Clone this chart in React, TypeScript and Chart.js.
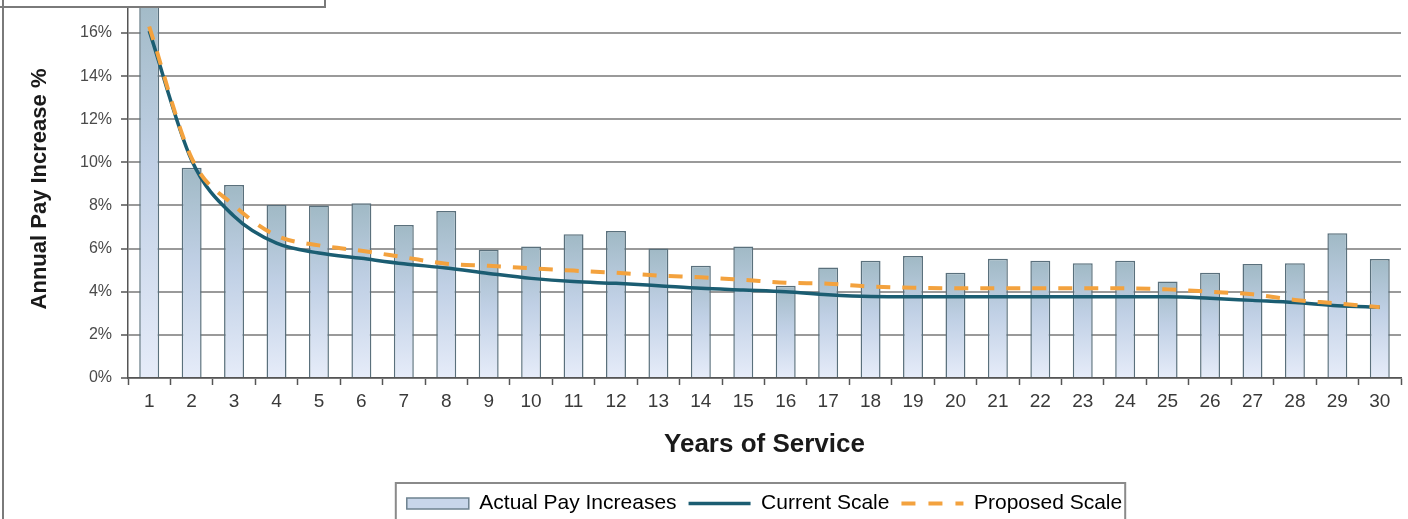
import React, { useEffect, useRef } from 'react';
import { Chart, registerables } from 'chart.js';

Chart.register(...registerables);

const years = ['1', '2', '3', '4', '5', '6', '7', '8', '9', '10', '11', '12', '13', '14', '15',
  '16', '17', '18', '19', '20', '21', '22', '23', '24', '25', '26', '27', '28', '29', '30'];

const actualPayIncreases = [18, 9.75, 8.95, 8.02, 8.0, 8.1, 7.1, 7.75, 5.95, 6.1, 6.67, 6.82, 6.0, 5.2, 6.1,
  4.28, 5.12, 5.44, 5.66, 4.88, 5.53, 5.44, 5.32, 5.44, 4.47, 4.88, 5.29, 5.32, 6.71, 5.52];

const currentScale = [16.1, 10.1, 7.5, 6.25, 5.8, 5.55, 5.3, 5.1, 4.85, 4.62, 4.47, 4.39, 4.28, 4.16, 4.08,
  4.0, 3.86, 3.78, 3.77, 3.77, 3.77, 3.77, 3.77, 3.77, 3.77, 3.7, 3.6, 3.5, 3.35, 3.28];

const proposedScale = [16.3, 10.2, 8.0, 6.6, 6.15, 5.9, 5.6, 5.3, 5.2, 5.09, 4.98, 4.88, 4.75, 4.67, 4.55,
  4.42, 4.37, 4.24, 4.19, 4.16, 4.16, 4.16, 4.16, 4.16, 4.11, 4.0, 3.88, 3.62, 3.46, 3.28];

const yTickValues = [0, 2, 4, 6, 8, 10, 12, 14, 16];

const FONT = '"Liberation Sans", Arial, sans-serif';

const framePlugin = {
  id: 'frameDecor',
  afterDraw(chart: any) {
    const ctx = chart.ctx;
    ctx.save();
    const lg = chart.legend;
    if (lg && lg.legendHitBoxes && lg.legendHitBoxes.length) {
      const hb = lg.legendHitBoxes;
      let l = Infinity, r = -Infinity, t = Infinity;
      hb.forEach((h: any) => {
        l = Math.min(l, h.left);
        r = Math.max(r, h.left + h.width);
        t = Math.min(t, h.top);
      });
      ctx.strokeStyle = '#8a8a8a';
      ctx.lineWidth = 2;
      ctx.beginPath();
      ctx.moveTo(l - 11, chart.height + 5);
      ctx.lineTo(l - 11, t - 10);
      ctx.lineTo(r + 3, t - 10);
      ctx.lineTo(r + 3, chart.height + 5);
      ctx.stroke();
    }
    ctx.fillStyle = '#ffffff';
    ctx.fillRect(0, 0, 325, 7);
    ctx.strokeStyle = '#7a7a7a';
    ctx.lineWidth = 2;
    ctx.beginPath();
    ctx.moveTo(3, 0);
    ctx.lineTo(3, chart.height);
    ctx.moveTo(0, 7);
    ctx.lineTo(325, 7);
    ctx.lineTo(325, 0);
    ctx.stroke();
    ctx.restore();
  },
};

function barGradient(context: any) {
  const chart = context.chart;
  const yScale = chart.scales && chart.scales.y;
  if (!yScale || context.type !== 'data' || !context.parsed) return '#c9d7ea';
  const top = yScale.getPixelForValue(context.parsed.y);
  const base = yScale.getPixelForValue(0);
  if (!isFinite(top) || !isFinite(base) || base - top < 1) return '#c9d7ea';
  const g = chart.ctx.createLinearGradient(0, top, 0, base);
  g.addColorStop(0, '#a0b9c5');
  g.addColorStop(0.45, '#c0d0e5');
  g.addColorStop(1, '#e6ecf9');
  return g;
}

export default function App() {
  const canvasRef = useRef<HTMLCanvasElement | null>(null);

  useEffect(() => {
    document.body.style.margin = '0';
    const canvas = canvasRef.current;
    if (!canvas) return;
    const chart = new Chart(canvas, {
      type: 'bar',
      data: {
        labels: years,
        datasets: [
          {
            type: 'bar',
            label: 'Actual Pay Increases',
            data: actualPayIncreases,
            backgroundColor: barGradient,
            borderColor: '#5a707c',
            borderWidth: 1.5,
            borderSkipped: 'bottom',
            categoryPercentage: 1,
            barPercentage: 0.47,
            order: 3,
          },
          {
            type: 'line',
            label: 'Current Scale',
            data: currentScale,
            borderColor: '#1b5d72',
            borderWidth: 3.5,
            pointRadius: 0,
            cubicInterpolationMode: 'monotone',
            fill: false,
            order: 2,
          },
          {
            type: 'line',
            label: 'Proposed Scale',
            data: proposedScale,
            borderColor: '#f3a23e',
            borderWidth: 4,
            borderDash: [14, 12],
            pointRadius: 0,
            cubicInterpolationMode: 'monotone',
            fill: false,
            order: 1,
          },
        ] as any,
      },
      options: {
        responsive: false,
        animation: false,
        devicePixelRatio: 1,
        layout: { padding: { left: 0, right: 7, top: 0, bottom: -5 } },
        plugins: {
          tooltip: { enabled: false },
          title: { display: false },
          legend: {
            position: 'bottom',
            fullSize: false,
            labels: {
              usePointStyle: true,
              pointStyleWidth: 62,
              boxHeight: 11,
              padding: 12,
              color: '#1a1a1a',
              font: { family: FONT, size: 21 },
              generateLabels: () => [
                {
                  text: 'Actual Pay Increases',
                  fillStyle: '#c8d6ea',
                  strokeStyle: '#6d8290',
                  lineWidth: 1.5,
                  pointStyle: 'rect',
                  datasetIndex: 0,
                  hidden: false,
                } as any,
                {
                  text: 'Current Scale',
                  fillStyle: '#1b5d72',
                  strokeStyle: '#1b5d72',
                  lineWidth: 3.5,
                  pointStyle: 'line',
                  datasetIndex: 1,
                  hidden: false,
                } as any,
                {
                  text: 'Proposed Scale',
                  fillStyle: '#f3a23e',
                  strokeStyle: '#f3a23e',
                  lineWidth: 4,
                  lineDash: [14, 13],
                  pointStyle: 'line',
                  datasetIndex: 2,
                  hidden: false,
                } as any,
              ],
            },
          },
        },
        scales: {
          x: {
            type: 'category',
            offset: true,
            grid: {
              offset: true,
              drawOnChartArea: false,
              drawTicks: true,
              tickLength: 7,
              tickColor: '#555555',
              tickWidth: 1.5,
            },
            border: { display: true, color: '#555555', width: 1.5 },
            ticks: {
              color: '#3a3a3a',
              font: { family: FONT, size: 19 },
              padding: 5,
              maxRotation: 0,
              autoSkip: false,
            },
            title: {
              display: true,
              text: 'Years of Service',
              color: '#1a1a1a',
              font: { family: FONT, size: 26, weight: 'bold' },
              padding: { top: 0, bottom: 21 },
            },
            afterFit: (s: any) => {
              s.height = 103;
              s.paddingLeft = 0;
              s.paddingRight = 0;
            },
          },
          y: {
            type: 'linear',
            min: 0,
            max: 17.53,
            afterBuildTicks: (s: any) => {
              s.ticks = yTickValues.map((v) => ({ value: v }));
            },
            grid: {
              color: '#9a9a9a',
              lineWidth: 2,
              drawTicks: true,
              tickLength: 7,
              tickColor: '#555555',
              tickWidth: 1.5,
            },
            border: { display: true, color: '#555555', width: 1.5 },
            ticks: {
              color: '#4a4a4a',
              font: { family: FONT, size: 16 },
              padding: 9,
              callback: (v: any) => `${v}%`,
            },
            title: {
              display: true,
              text: 'Annual Pay Increase %',
              color: '#1a1a1a',
              font: { family: FONT, size: 22, weight: 'bold' },
              padding: { top: 27, bottom: 0 },
            },
            afterFit: (s: any) => {
              s.width = 128;
              s.paddingTop = 0;
              s.paddingBottom = 0;
            },
          },
        },
      },
      plugins: [framePlugin],
    });
    return () => chart.destroy();
  }, []);

  return (
    <div style={{ width: 1408, height: 519, background: '#ffffff' }}>
      <canvas ref={canvasRef} width={1408} height={519} style={{ display: 'block' }} />
    </div>
  );
}
